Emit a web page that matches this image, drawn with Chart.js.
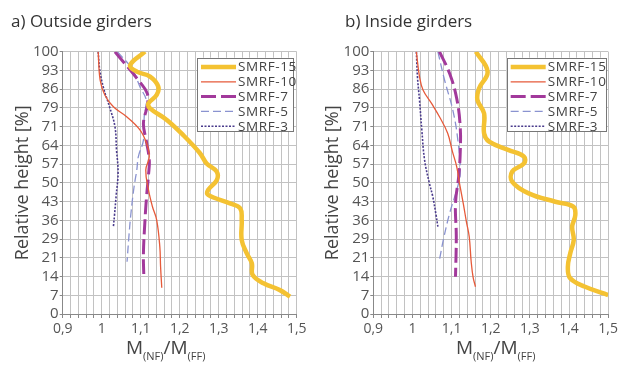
<!DOCTYPE html>
<html><head><meta charset="utf-8">
<script src="https://cdn.jsdelivr.net/npm/chart.js@4.4.1/dist/chart.umd.min.js"></script>
<style>
body{margin:0;background:#fff;font-family:"Open Sans",sans-serif;}
#wrap{position:relative;width:621px;height:368px;overflow:hidden;background:#fff}
canvas{position:absolute;top:0}
.ttl{position:absolute;font-size:17px;line-height:17px;color:#333;white-space:nowrap}
.xt{position:absolute;font-size:19px;line-height:19px;color:#444;white-space:nowrap}
.xt .s{font-size:11px;position:relative;top:6px}
</style></head>
<body><div id="wrap">
<canvas id="cA" width="310" height="368" style="left:0"></canvas>
<canvas id="cB" width="311" height="368" style="left:310px"></canvas>
<div class="ttl" style="left:11px;top:11.6px">a) Outside girders</div>
<div class="ttl" style="left:345px;top:11.6px">b) Inside girders</div>
<div class="xt" style="left:126px;top:338px">M<span class="s">(NF)</span>/M<span class="s">(FF)</span></div>
<div class="xt" style="left:456px;top:338px">M<span class="s">(NF)</span>/M<span class="s">(FF)</span></div>
</div>
<script>
// ---- data ----
const seriesNames = ['SMRF-15', 'SMRF-10', 'SMRF-7', 'SMRF-5', 'SMRF-3'];
const yTickLabels = [0, 7, 14, 21, 29, 36, 43, 50, 57, 64, 71, 79, 86, 93, 100];
const xTickLabels = ['0,9', '1', '1,1', '1,2', '1,3', '1,4', '1,5'];

// a) Outside girders
const outH15 = [100, 94.9, 92.4, 90.5, 86.7, 83.5, 80.3, 78.4, 74, 68.2, 61.3, 57.4, 54.3, 51, 47.3, 45.4, 42.2, 40.3, 35.8, 28.2, 23.1, 19.3, 14.9, 11.7, 9.1, 6.6];
const outM15 = [1.111, 1.073, 1.09, 1.124, 1.145, 1.141, 1.12, 1.124, 1.167, 1.209, 1.252, 1.269, 1.295, 1.295, 1.273, 1.273, 1.329, 1.355, 1.359, 1.359, 1.372, 1.385, 1.387, 1.415, 1.457, 1.483];
const outH10 = [100, 89.2, 83.5, 79, 75.2, 70.2, 65.1, 60, 54.9, 47.3, 41, 35.8, 25.7, 18, 10];
const outM10 = [0.991, 0.996, 1.008, 1.03, 1.064, 1.098, 1.115, 1.122, 1.113, 1.12, 1.13, 1.141, 1.149, 1.151, 1.154];
const outH7 = [100, 88, 84, 79.6, 72.7, 66.3, 58.7, 53, 44.7, 35.8, 23.1, 14.2];
const outM7 = [1.034, 1.10, 1.117, 1.117, 1.107, 1.114, 1.122, 1.12, 1.115, 1.111, 1.107, 1.108];
const outH5 = [100, 93.6, 86, 81.6, 75.2, 66.3, 60, 54.9, 48.5, 38.4, 30, 19.9];
const outM5 = [1.04, 1.077, 1.10, 1.114, 1.109, 1.107, 1.094, 1.09, 1.083, 1.075, 1.07, 1.065];
const outH3 = [100, 93, 86, 79, 71.4, 62.5, 54, 45, 38, 33.3];
const outM3 = [0.991, 0.995, 1.005, 1.02, 1.034, 1.038, 1.042, 1.037, 1.033, 1.03];

// b) Inside girders
const inH15 = [100, 92.4, 86, 81.6, 76.5, 68.9, 65.7, 62.5, 60, 57.4, 54.3, 50.4, 46, 42.8, 40.9, 37.7, 33.3, 28.2, 23.1, 18, 13.6, 10.4, 7.2];
const inM15 = [1.162, 1.192, 1.17, 1.166, 1.183, 1.183, 1.196, 1.246, 1.285, 1.285, 1.255, 1.255, 1.297, 1.365, 1.411, 1.416, 1.408, 1.412, 1.403, 1.397, 1.403, 1.441, 1.5];
const inH10 = [100, 90.5, 85.4, 80, 75.2, 68.9, 62, 56.2, 50, 42, 35, 29.5, 20, 14, 10.4];
const inM10 = [1.01, 1.018, 1.027, 1.05, 1.069, 1.09, 1.102, 1.113, 1.12, 1.13, 1.138, 1.145, 1.15, 1.155, 1.161];
const inH7 = [100, 91.7, 82.2, 71.4, 61.3, 52.3, 42.3, 29.5, 14.2];
const inM7 = [1.069, 1.095, 1.113, 1.122, 1.122, 1.118, 1.11, 1.112, 1.11];
const inH5 = [100, 89.2, 77.8, 66.3, 53.6, 47.3, 38.4, 29, 19.9];
const inM5 = [1.065, 1.082, 1.103, 1.116, 1.122, 1.113, 1.095, 1.08, 1.068];
const inH3 = [100, 90, 81.6, 70, 58.7, 50, 44.7, 38, 33.3];
const inM3 = [1.01, 1.013, 1.018, 1.024, 1.031, 1.043, 1.052, 1.06, 1.065];

// ---- styles ----
const lineStyles = [
  {color: '#F4C232', width: 4.5, dash: []},
  {color: '#E65A3A', width: 1.3, dash: []},
  {color: '#A2399B', width: 3, dash: [15, 5]},
  {color: '#8A93D0', width: 1.3, dash: [8, 4]},
  {color: '#4A3B8C', width: 1.6, dash: [2, 1.5]}
];

function pts(h, m) { return h.map((v, i) => ({x: m[i], y: v})); }

function buildDatasets(hs, ms) {
  return seriesNames.map((name, i) => ({
    label: name,
    data: pts(hs[i], ms[i]),
    borderColor: lineStyles[i].color,
    borderWidth: lineStyles[i].width,
    borderDash: lineStyles[i].dash,
    pointRadius: 0,
    showLine: true,
    fill: false,
    tension: 0.4
  }));
}

const boxLegend = {
  id: 'boxLegend',
  afterDatasetsDraw(chart, args, opts) {
    const ctx = chart.ctx, a = chart.chartArea;
    const w = opts.w, h = 74;
    const x0 = a.right - opts.inset - w, y0 = a.top + 6;
    ctx.save();
    ctx.setLineDash([]);
    ctx.fillStyle = '#fff';
    ctx.fillRect(x0, y0, w, h);
    ctx.strokeStyle = '#777';
    ctx.lineWidth = 1;
    ctx.strokeRect(Math.round(x0) + 0.5, Math.round(y0) + 0.5, w - 1, h - 1);
    ctx.font = '13.5px "Open Sans"';
    ctx.letterSpacing = '0.6px';
    ctx.textBaseline = 'middle';
    ctx.textAlign = 'left';
    chart.data.datasets.forEach((ds, i) => {
      const y = y0 + 9.3 + i * 14.8;
      ctx.setLineDash(ds.borderDash || []);
      ctx.strokeStyle = ds.borderColor;
      ctx.lineWidth = ds.borderWidth;
      ctx.beginPath();
      ctx.moveTo(x0 + 4, y);
      ctx.lineTo(x0 + 39, y);
      ctx.stroke();
      ctx.setLineDash([]);
      ctx.fillStyle = '#444';
      ctx.fillText(ds.label, x0 + 41, y + 0.5);
    });
    ctx.restore();
  }
};

function makeChart(id, datasets, padRight, yWidth, legW, legInset) {
  return new Chart(document.getElementById(id), {
    type: 'scatter',
    data: {datasets},
    plugins: [boxLegend],
    options: {
      responsive: false,
      animation: false,
      layout: {padding: {top: 51.7, right: padRight, bottom: 0, left: 0}},
      plugins: {
        legend: {display: false}, tooltip: {enabled: false}, title: {display: false},
        boxLegend: {w: legW, inset: legInset}
      },
      scales: {
        x: {
          type: 'linear', min: 0.9, max: 1.5,
          afterFit(s) { s.height = 54; },
          afterBuildTicks(s) {
            const t = [];
            for (let k = 0; k <= (xTickLabels.length - 1) * 5; k++) t.push({value: 0.9 + k * 0.02});
            s.ticks = t;
          },
          ticks: {
            autoSkip: false, maxRotation: 0, padding: 3,
            color: '#555', font: {family: 'Open Sans', size: 14},
            callback: (v, i) => (i % 5 === 0 ? xTickLabels[i / 5] : '')
          },
          grid: {color: '#c2c2c2', tickColor: '#888', tickLength: 4, lineWidth: 1},
          border: {color: '#888', width: 1}
        },
        y: {
          type: 'linear', min: 0, max: 100,
          afterFit(s) { s.width = yWidth; },
          afterBuildTicks(s) {
            s.ticks = yTickLabels.map((l, i) => ({value: i * 100 / (yTickLabels.length - 1)}));
          },
          ticks: {
            autoSkip: false, padding: 1,
            color: '#555', font: {family: 'Open Sans', size: 15},
            callback: (v, i) => String(yTickLabels[i])
          },
          grid: {color: '#c2c2c2', tickColor: '#888', tickLength: 3, lineWidth: 1},
          border: {color: '#888', width: 1},
          title: {display: true, text: 'Relative height [%]', color: '#444',
                  font: {family: 'Open Sans', size: 18}, padding: {top: 12, bottom: 0}}
        }
      }
    }
  });
}

makeChart('cA', buildDatasets([outH15, outH10, outH7, outH5, outH3], [outM15, outM10, outM7, outM5, outM3]), 13.3, 62.7, 97, 2.7);
makeChart('cB', buildDatasets([inH15, inH10, inH7, inH5, inH3], [inM15, inM10, inM7, inM5, inM3]), 11, 63.3, 100, 1.5);
</script>
</body></html>
